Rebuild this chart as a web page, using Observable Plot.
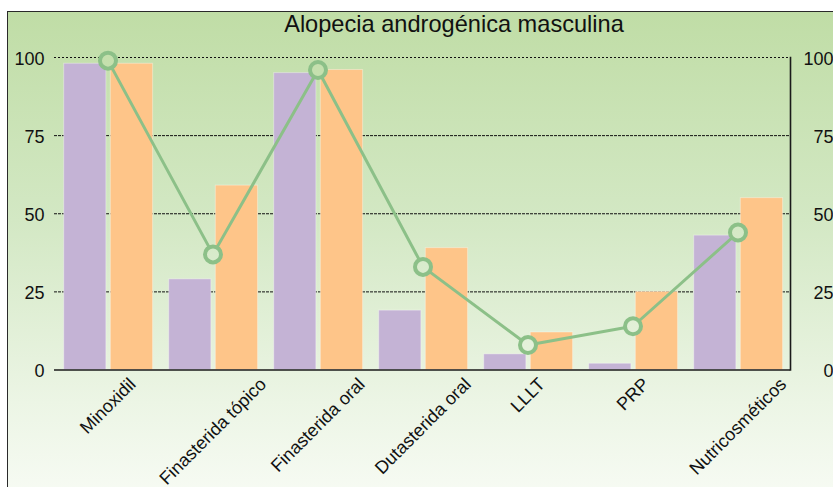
<!DOCTYPE html>
<html>
<head>
<meta charset="utf-8">
<script src="https://cdn.jsdelivr.net/npm/d3@7"></script>
<script src="https://cdn.jsdelivr.net/npm/@observablehq/plot@0.6"></script>
<style>
  html, body { margin: 0; padding: 0; width: 833px; height: 487px; overflow: hidden; background: #fff; }
  #frame {
    position: absolute; left: 7px; top: 11px; width: 1000px; height: 520px;
    border: 1.6px solid #2a2a2a;
    background: linear-gradient(to bottom, #c0dda6 0%, #d3e8c4 40%, #ecf5e5 75%, #fbfdf9 100%);
  }
  #title {
    position: absolute; left: 0; width: 908px; top: 11px; text-align: center;
    font-family: "Liberation Sans", Arial, Helvetica, sans-serif; font-size: 23.6px; color: #111;
  }
  #chart { position: absolute; left: 0; top: 0; }
</style>
</head>
<body>
<div id="frame"></div>
<div id="title">Alopecia androgénica masculina</div>
<div id="chart"></div>
<script>
const categories = ["Minoxidil", "Finasterida tópico", "Finasterida oral", "Dutasterida oral", "LLLT", "PRP", "Nutricosméticos"];
const seriesPurple = [98, 29, 95, 19, 5, 2, 43];
const seriesOrange = [98, 59, 96, 39, 12, 25, 55];
const seriesLine = [99, 37, 96, 33, 8, 14, 44];
const yTicks = [0, 25, 50, 75, 100];

const purple = categories.map((c, i) => ({cat: c, v: seriesPurple[i]}));
const orange = categories.map((c, i) => ({cat: c, v: seriesOrange[i]}));
const line = categories.map((c, i) => ({cat: c, v: seriesLine[i]}));

const font = "'Liberation Sans', Arial, Helvetica, sans-serif";
const step = (790 - 54) / categories.length;

const plot = Plot.plot({
  width: 833,
  height: 487,
  marginLeft: 54,
  marginRight: 43,
  marginTop: 57,
  marginBottom: 117.5,
  style: {background: "transparent", fontFamily: font, fontSize: "18px", color: "#111", overflow: "visible"},
  x: {type: "band", domain: categories, padding: 0, axis: null},
  y: {domain: [0, 100], axis: null},
  marks: [
    Plot.ruleY([25, 50, 75], {stroke: "#111", strokeWidth: 1, strokeDasharray: "3,1"}),
    Plot.ruleY([100], {stroke: "#111", strokeWidth: 1, strokeDasharray: "2,2"}),
    Plot.barY(purple, {x: "cat", y: "v", fill: "#c4b3d5", insetLeft: 8.7, insetRight: step - 51, stroke: "#ffffff", strokeOpacity: 0.35, strokeWidth: 1}),
    Plot.barY(orange, {x: "cat", y: "v", fill: "#fec589", insetLeft: 55.3, insetRight: 7.4, stroke: "#ffffff", strokeOpacity: 0.35, strokeWidth: 1}),
    Plot.ruleY([0], {stroke: "#1a1a1a", strokeWidth: 1.6}),
    Plot.frame({anchor: "right", stroke: "#1a1a1a", strokeWidth: 1.6}),
    Plot.line(line, {x: "cat", y: "v", stroke: "#8cc088", strokeWidth: 3}),
    Plot.dot(line, {x: "cat", y: "v", r: 8, stroke: "#8cc088", strokeWidth: 4, fill: "#ffffff", className: "ptdot"}),
    Plot.text(yTicks, {y: d => d, frameAnchor: "left", textAnchor: "end", dx: -10, dy: 1.5, text: d => String(d), fontSize: 18, fill: "#111"}),
    Plot.text(yTicks, {y: d => d, frameAnchor: "right", textAnchor: "end", dx: 43, dy: 1.5, text: d => String(d), fontSize: 18, fill: "#111"}),
    Plot.text(categories, {x: d => d, y: 0, text: d => d, rotate: -45, textAnchor: "middle", fontSize: 18, fill: "#111", className: "xlab"})
  ]
});

document.getElementById("chart").appendChild(plot);

// gradient matching the page background, for the hollow circle fills
const svg = d3.select(plot);
const defs = svg.insert("defs", ":first-child");
const g = defs.append("linearGradient").attr("id", "bggrad")
  .attr("gradientUnits", "userSpaceOnUse").attr("x1", 0).attr("x2", 0).attr("y1", 12).attr("y2", 532);
[["0%", "#c0dda6"], ["40%", "#d3e8c4"], ["75%", "#ecf5e5"], ["100%", "#fbfdf9"]].forEach(([o, c]) =>
  g.append("stop").attr("offset", o).attr("stop-color", c));
svg.selectAll(".ptdot circle").attr("fill", "url(#bggrad)");

// position rotated x labels: bounding box top-centred under each band
svg.selectAll(".xlab text").each(function() {
  const L = this.getComputedTextLength();
  const off = 7 + (L / 2 + 6) * Math.SQRT1_2;
  const t = this.getAttribute("transform") || "";
  this.setAttribute("transform", `translate(0,${off}) ` + t);
});
</script>
</body>
</html>
